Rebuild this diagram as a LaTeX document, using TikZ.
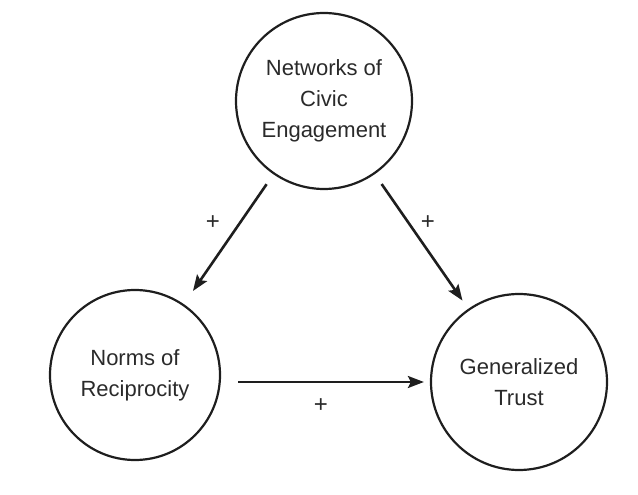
\documentclass[tikz,border=0pt]{standalone}
\usepackage{fontspec}
\setmainfont{Liberation Sans}
\usetikzlibrary{arrows.meta}
\definecolor{ink}{HTML}{1E1E1E}
\definecolor{txt}{HTML}{2A2A2A}
\begin{document}
\begin{tikzpicture}[x=1pt,y=-1pt,
  concept/.style={circle,draw=ink,line width=2.2pt,inner sep=0pt,minimum size=#1,
    font=\fontsize{22}{31}\selectfont,text=txt,align=center},
  arr/.style={draw=ink,line width=2.6pt,-{Stealth[length=16pt,width=12pt,inset=3pt]}},
  sign/.style={font=\fontsize{24}{28}\selectfont,text=txt}]
\useasboundingbox (0,0) rectangle (638,495);
\node[concept=176pt] (N) at (324,101) {Networks of\\Civic\\Engagement};
\node[concept=170pt] (R) at (135,375) {Norms of\\Reciprocity};
\node[concept=176pt] (T) at (519,382) {Generalized\\Trust};
\draw[arr,shorten <=12pt,shorten >=16pt] (N) -- (R);
\draw[arr,shorten <=12pt,shorten >=10pt] (N) -- (T);
\draw[arr,shorten <=17pt,shorten >=6pt] (R.east |- T.center) -- (T.west);
\node[sign] (p1) at (213,223) {+};
\node[sign] (p2) at (428,223) {+};
\node[sign] (p3) at (321,406) {+};
\end{tikzpicture}
\end{document}
